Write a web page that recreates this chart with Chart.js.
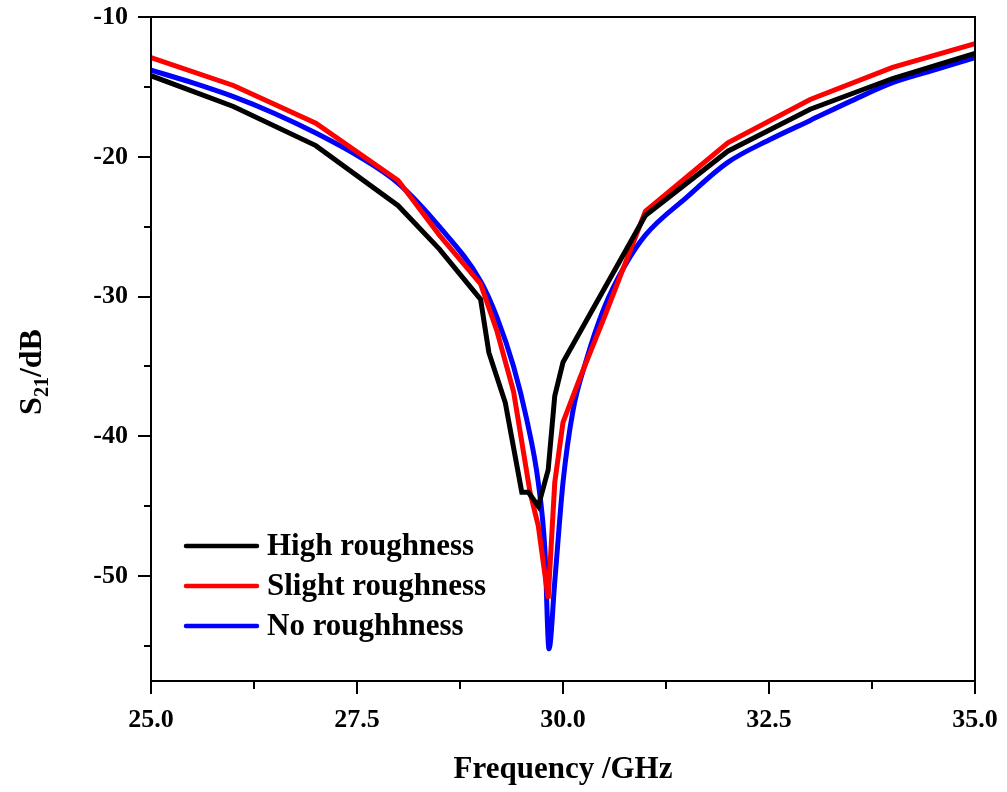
<!DOCTYPE html>
<html>
<head>
<meta charset="utf-8">
<script src="https://cdn.jsdelivr.net/npm/chart.js@4.4.0/dist/chart.umd.min.js"></script>
<style>
  html, body { margin: 0; padding: 0; background: #fff; }
  #wrap { width: 1007px; height: 792px; }
</style>
</head>
<body>
<div id="wrap"><canvas id="s21Chart"></canvas></div>
<script>
// data (GHz, dB)
const highFreq = [25, 26, 27, 28, 28.5, 29, 29.1, 29.3, 29.5, 29.58, 29.7, 29.82, 29.9, 30, 31, 32, 33, 34, 35];
const highS21 = [-14.2, -16.4, -19.2, -23.5, -26.6, -30.2, -34.0, -37.6, -44.0, -44.0, -45.0, -42.4, -37.1, -34.7, -24.2, -19.6, -16.6, -14.4, -12.6];

const slightFreq = [25, 26, 27, 28, 28.5, 29, 29.2, 29.4, 29.6, 29.7, 29.82, 29.9, 30, 30.2, 30.5, 31, 32, 33, 34, 35];
const slightS21 = [-12.9, -14.9, -17.6, -21.7, -25.6, -29.1, -32.5, -36.8, -44.0, -46.4, -51.6, -43.3, -39.0, -35.9, -31.5, -23.9, -19.0, -15.9, -13.6, -11.9];

const noFreq = [25, 25.5, 26, 26.5, 27, 27.5, 28, 28.5, 29, 29.2, 29.4, 29.56, 29.7, 29.78, 29.83, 29.9, 30, 30.12, 30.27, 30.5, 30.75, 31, 31.5, 32, 32.5, 33, 33.5, 34, 34.5, 35];
const noS21 = [-13.8, -14.7, -15.7, -16.9, -18.3, -19.9, -21.9, -25.0, -28.9, -31.5, -35.0, -38.8, -43.3, -48.1, -55.2, -50.4, -43.3, -38.2, -34.8, -30.8, -27.8, -25.6, -22.9, -20.4, -18.8, -17.4, -16.0, -14.7, -13.8, -12.9];

const seriesNames = ['High roughness', 'Slight roughness', 'No roughhness'];
const xTicks = [25, 27.5, 30, 32.5, 35];
const yTicks = [-50, -40, -30, -20, -10];

const serif = '"Liberation Serif", "Times New Roman", serif';

function pts(xs, ys) {
  return xs.map((x, i) => ({ x: x, y: ys[i] }));
}

function noOverhang(s) {
  s.paddingLeft = 0;
  s.paddingRight = 0;
  s.paddingTop = 0;
  s.paddingBottom = 0;
}

// frame, outward ticks, axis titles and the legend inside the plot
const decor = {
  id: 'decor',
  afterDraw(chart) {
    const ctx = chart.ctx;
    const a = chart.chartArea;
    const xs = chart.scales.x;
    const ys = chart.scales.y;
    ctx.save();
    ctx.strokeStyle = '#000';
    ctx.lineWidth = 2;
    ctx.strokeRect(a.left, a.top, a.right - a.left, a.bottom - a.top);

    ctx.beginPath();
    for (let v = -55; v <= -10; v += 5) {
      const py = Math.round(ys.getPixelForValue(v));
      const len = v % 10 === 0 ? 13 : 7;
      ctx.moveTo(a.left, py);
      ctx.lineTo(a.left - len, py);
    }
    for (let v = 25; v <= 35.001; v += 1.25) {
      const px = Math.round(xs.getPixelForValue(v));
      const major = Math.abs(v / 2.5 - Math.round(v / 2.5)) < 1e-6;
      ctx.moveTo(px, a.bottom);
      ctx.lineTo(px, a.bottom + (major ? 13 : 8));
    }
    ctx.stroke();

    ctx.fillStyle = '#000';
    ctx.textAlign = 'center';
    ctx.textBaseline = 'middle';
    ctx.font = 'bold 31px ' + serif;
    ctx.fillText('Frequency /GHz', (a.left + a.right) / 2, 770);

    // y title with subscript
    ctx.save();
    ctx.translate(30, 372);
    ctx.rotate(-Math.PI / 2);
    ctx.textAlign = 'left';
    ctx.textBaseline = 'alphabetic';
    const big = 'bold 32px ' + serif;
    const small = 'bold 20px ' + serif;
    ctx.font = big;
    const wS = ctx.measureText('S').width;
    const wD = ctx.measureText('/dB').width;
    ctx.font = small;
    const w21 = ctx.measureText('21').width;
    let x0 = -(wS + w21 + wD) / 2;
    ctx.font = big;
    ctx.fillText('S', x0, 11);
    ctx.font = small;
    ctx.fillText('21', x0 + wS, 18);
    ctx.font = big;
    ctx.fillText('/dB', x0 + wS + w21, 11);
    ctx.restore();

    // legend
    ctx.font = 'bold 31px ' + serif;
    ctx.textAlign = 'left';
    ctx.textBaseline = 'middle';
    const rows = [135, 95, 55];
    chart.data.datasets.forEach((ds, i) => {
      const y = a.bottom - rows[i];
      ctx.strokeStyle = ds.borderColor;
      ctx.lineWidth = 4.5;
      ctx.lineCap = 'round';
      ctx.beginPath();
      ctx.moveTo(a.left + 35, y);
      ctx.lineTo(a.left + 106, y);
      ctx.stroke();
      ctx.fillStyle = '#000';
      ctx.fillText(ds.label, a.left + 116, y + 1);
    });
    ctx.restore();
  }
};

new Chart(document.getElementById('s21Chart'), {
  type: 'line',
  data: {
    datasets: [
      {
        label: seriesNames[0],
        data: pts(highFreq, highS21),
        borderColor: '#000000',
        borderWidth: 5,
        pointRadius: 0,
        tension: 0
      },
      {
        label: seriesNames[1],
        data: pts(slightFreq, slightS21),
        borderColor: '#ff0000',
        borderWidth: 5,
        pointRadius: 0,
        tension: 0
      },
      {
        label: seriesNames[2],
        data: pts(noFreq, noS21),
        borderColor: '#0000ff',
        borderWidth: 5,
        pointRadius: 0,
        cubicInterpolationMode: 'monotone'
      }
    ]
  },
  options: {
    responsive: true,
    maintainAspectRatio: false,
    animation: false,
    layout: { padding: { top: 17, right: 32, left: 0, bottom: 0 } },
    plugins: {
      legend: { display: false },
      tooltip: { enabled: false }
    },
    scales: {
      x: {
        type: 'linear',
        min: 25,
        max: 35,
        afterFit: (s) => { s.height = 111; noOverhang(s); },
        afterBuildTicks: (s) => { s.ticks = xTicks.map(v => ({ value: v })); },
        grid: { display: false, drawTicks: false },
        border: { display: false },
        ticks: {
          color: '#000',
          padding: 24,
          maxRotation: 0,
          font: { family: serif, size: 26, weight: 'bold' },
          callback: (v) => v.toFixed(1)
        }
      },
      y: {
        min: -57.5,
        max: -10,
        afterFit: (s) => { s.width = 151; noOverhang(s); },
        afterBuildTicks: (s) => { s.ticks = yTicks.map(v => ({ value: v })); },
        grid: { display: false, drawTicks: false },
        border: { display: false },
        ticks: {
          color: '#000',
          padding: 23,
          font: { family: serif, size: 26, weight: 'bold' }
        }
      }
    }
  },
  plugins: [decor]
});
</script>
</body>
</html>
